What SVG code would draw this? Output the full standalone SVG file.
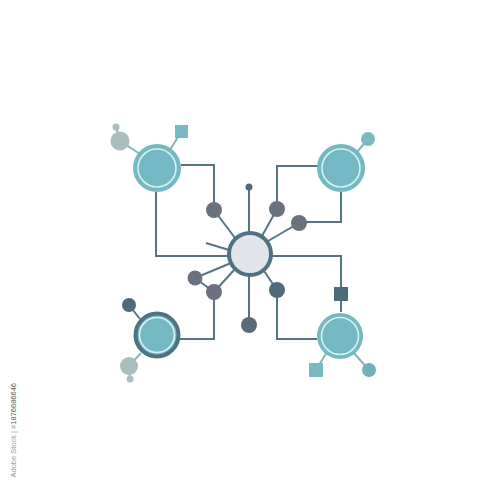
<svg xmlns="http://www.w3.org/2000/svg" width="500" height="500" viewBox="0 0 500 500">
<style>
.ln{fill:none;stroke:#557585;stroke-width:2}
.lt{fill:none;stroke:#86b3ba;stroke-width:2}
.big{fill:#74b8c3}
.ring{fill:none;stroke:#d6f2f2;stroke-width:1.6}
.gray{fill:#6b717f}
.dark{fill:#4c6b7b}
.pale{fill:#a8bfbe}
.sq{fill:#7ab8c2}
</style>
<rect width="500" height="500" fill="#ffffff"/>
<g id="connectors">
<polyline class="ln" points="181,165 214,165 214,203"/>
<polyline class="ln" points="156,192 156,256 230,256"/>
<line class="ln" x1="214" y1="210" x2="235" y2="238"/>
<line class="ln" x1="249" y1="188" x2="249" y2="233"/>
<polyline class="ln" points="318,166 277,166 277,209"/>
<polyline class="ln" points="341,192 341,222 299,222"/>
<line class="ln" x1="277" y1="209" x2="262" y2="236"/>
<line class="ln" x1="299" y1="223" x2="268" y2="241"/>
<polyline class="ln" points="270,256 341,256 341,312"/>
<polyline class="ln" points="317,339 277,339 277,290"/>
<line class="ln" x1="277" y1="290" x2="264" y2="271"/>
<line class="ln" x1="249" y1="276" x2="249" y2="323"/>
<polyline class="ln" points="180,339 214,339 214,292"/>
<line class="ln" x1="195" y1="278" x2="214" y2="292"/>
<line class="ln" x1="195" y1="278" x2="231" y2="263"/>
<line class="ln" x1="214" y1="292" x2="234" y2="270"/>
<line class="ln" x1="206" y1="243" x2="229" y2="250"/>
<line class="lt" x1="140" y1="154" x2="120" y2="141"/>
<line class="lt" x1="120" y1="141" x2="116" y2="127"/>
<line class="lt" x1="170" y1="150" x2="181" y2="132"/>
<line class="lt" x1="357" y1="152" x2="368" y2="139"/>
<line class="lt" x1="327" y1="352" x2="316" y2="370"/>
<line class="lt" x1="353" y1="352" x2="369" y2="370"/>
<line class="ln" x1="140" y1="319" x2="129" y2="305"/>
<line class="lt" x1="141" y1="353" x2="129" y2="366"/>
<line class="lt" x1="129" y1="366" x2="130" y2="379"/>
</g>
<g id="center"><circle cx="250" cy="254" r="21" fill="#e1e5e9" stroke="#4f7282" stroke-width="4"/></g>
<g id="top-left">
<circle class="pale" cx="120" cy="141" r="9.5"/>
<circle class="pale" cx="116" cy="127" r="3.5"/>
<rect class="sq" x="175" y="125" width="13" height="13"/>
<circle class="big" cx="157" cy="168" r="24"/>
<circle class="ring" cx="157" cy="168" r="19"/>
</g>
<g id="top-right">
<circle class="sq" cx="368" cy="139" r="7"/>
<circle class="big" cx="341" cy="168" r="24"/>
<circle class="ring" cx="341" cy="168" r="19"/>
</g>
<g id="bottom-left">
<circle class="dark" cx="129" cy="305" r="7"/>
<circle class="pale" cx="129" cy="366" r="9"/>
<circle class="pale" cx="130" cy="379" r="3.5"/>
<circle cx="157" cy="335" r="21.5" fill="#74b8c3" stroke="#4f7282" stroke-width="4"/>
<circle class="ring" cx="157" cy="335" r="17.5"/>
</g>
<g id="bottom-right">
<rect class="dark" x="334" y="287" width="14" height="14"/>
<rect class="sq" x="309" y="363" width="14" height="14"/>
<circle cx="369" cy="370" r="7" fill="#72b0ba"/>
<circle class="big" cx="340" cy="336" r="23"/>
<circle class="ring" cx="340" cy="336" r="18.5"/>
</g>
<g id="nodes">
<circle class="gray" cx="214" cy="210" r="8"/>
<circle class="gray" cx="277" cy="209" r="8"/>
<circle class="gray" cx="299" cy="223" r="8"/>
<circle class="dark" cx="249" cy="187" r="3.5"/>
<circle class="gray" cx="195" cy="278" r="7.5"/>
<circle class="gray" cx="214" cy="292" r="8"/>
<circle class="dark" cx="277" cy="290" r="8"/>
<circle cx="249" cy="325" r="8" fill="#5a6b78"/>
</g>
<text transform="translate(16,383) rotate(-90)" text-anchor="end" font-family="Liberation Sans, Arial, sans-serif" font-size="7.5"><tspan fill="#9a9a9a">Adobe Stock | #</tspan><tspan fill="#555555">1876686646</tspan></text>
</svg>
